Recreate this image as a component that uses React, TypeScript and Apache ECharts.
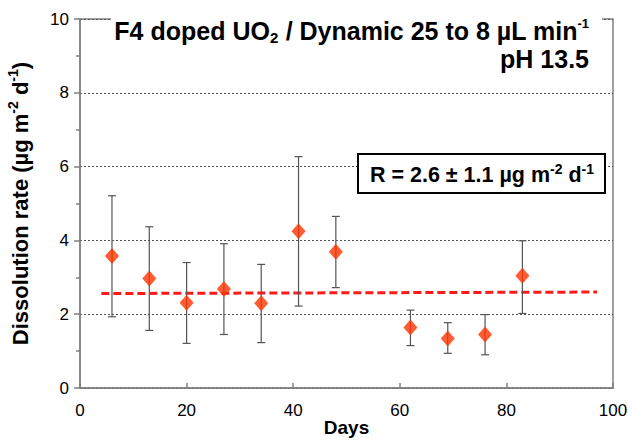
import React, { useEffect, useRef } from "react";
import * as echarts from "echarts";

const days = [6, 13, 20, 27, 34, 41, 48, 62, 69, 76, 83];
const rates = [3.58, 2.97, 2.31, 2.68, 2.3, 4.25, 3.69, 1.64, 1.34, 1.45, 3.04];
const errLow = [1.93, 1.56, 1.21, 1.45, 1.23, 2.22, 2.72, 1.15, 0.94, 0.9, 2.02];
const errHigh = [5.21, 4.37, 3.4, 3.91, 3.35, 6.27, 4.65, 2.11, 1.77, 1.99, 3.99];
const meanLineX = [4, 97];
const meanLineY = [2.56, 2.6];

const FONT = "Liberation Sans, Arial, sans-serif";

export default function App() {
  const ref = useRef<HTMLDivElement>(null);
  useEffect(() => {
    if (!ref.current) return;
    document.body.style.margin = "0";
    document.body.style.overflow = "hidden";
    const chart = echarts.init(ref.current, null, { renderer: "svg" });
    const errData = days.map((d, i) => [d, errLow[i], errHigh[i]]);
    chart.setOption({
      animation: false,
      backgroundColor: "#fff",
      textStyle: { fontFamily: FONT },
      grid: {
        left: 80,
        right: 19,
        top: 19,
        bottom: 53,
        outerBoundsMode: "none",
        containLabel: false,
        show: true,
        borderColor: "#808080",
        borderWidth: 1.5,
        backgroundColor: "transparent",
      },
      xAxis: {
        type: "value",
        min: 0,
        max: 100,
        interval: 20,
        name: "Days",
        nameLocation: "middle",
        nameGap: 29,
        nameMoveOverlap: false,
        nameTextStyle: { fontSize: 19, fontWeight: "bold", color: "#000", fontFamily: FONT, lineHeight: 20 },
        axisLine: { lineStyle: { color: "#808080", width: 1.5 } },
        axisTick: { inside: true, length: 5, lineStyle: { color: "#808080", width: 1.5 } },
        axisLabel: { fontSize: 17, color: "#000", margin: 14, fontFamily: FONT },
        splitLine: { show: false },
      },
      yAxis: {
        type: "value",
        min: 0,
        max: 10,
        interval: 2,
        name: "{b|Dissolution rate (µg m}{sup|-2}{b| d}{sup|-1}{b|)}",
        nameLocation: "middle",
        nameRotate: 90,
        nameGap: 49,
        nameMoveOverlap: false,
        nameTextStyle: {
          fontFamily: FONT,
          rich: {
            b: { fontSize: 22, fontWeight: "bold", color: "#000", lineHeight: 25, verticalAlign: "bottom", fontFamily: FONT },
            sup: { fontSize: 14, fontWeight: "bold", color: "#000", lineHeight: 25, verticalAlign: "top", fontFamily: FONT },
          },
        },
        axisLine: { show: true, lineStyle: { color: "#808080", width: 1.5 } },
        axisTick: { show: true, length: 6, lineStyle: { color: "#808080", width: 1.5 } },
        minorTick: { show: true, splitNumber: 2, length: 4, lineStyle: { color: "#808080", width: 1.5 } },
        axisLabel: { fontSize: 17, color: "#000", margin: 11, fontFamily: FONT },
        splitLine: {
          show: true,
          lineStyle: { color: "#555", type: [2, 2], width: 1 },
        },
      },
      graphic: [
        { type: "rect", shape: { x: 111, y: 14, width: 491, height: 10 }, style: { fill: "#fff" }, z: 100 },
        {
          type: "text",
          x: 589,
          y: 17,
          z: 101,
          style: {
            text: "{b|F4 doped UO}{sub|2}{b| / Dynamic 25 to 8 µL min}{sup|-1}\n{b|pH 13.5}",
            align: "right",
            verticalAlign: "top",
            fontFamily: FONT,
            rich: {
              b: { fontSize: 25, fontWeight: "bold", fill: "#000", lineHeight: 28, verticalAlign: "middle", align: "right", fontFamily: FONT },
              sub: { fontSize: 15, fontWeight: "bold", fill: "#000", lineHeight: 28, verticalAlign: "bottom", align: "right", fontFamily: FONT },
              sup: { fontSize: 13, fontWeight: "bold", fill: "#000", lineHeight: 28, verticalAlign: "top", align: "right", fontFamily: FONT },
            },
          },
        },
        {
          type: "rect",
          z: 101,
          shape: { x: 358, y: 154, width: 247, height: 39 },
          style: { fill: "#fff", stroke: "#000", lineWidth: 2 },
        },
        {
          type: "text",
          z: 102,
          x: 482,
          y: 174,
          style: {
            text: "{b|R = 2.6 ± 1.1 µg m}{sup|-2}{b| d}{sup|-1}",
            align: "center",
            verticalAlign: "middle",
            fontFamily: FONT,
            rich: {
              b: { fontSize: 21.5, fontWeight: "bold", fill: "#000", lineHeight: 24, verticalAlign: "bottom", fontFamily: FONT },
              sup: { fontSize: 14, fontWeight: "bold", fill: "#000", lineHeight: 24, verticalAlign: "top", fontFamily: FONT },
            },
          },
        },
      ],
      series: [
        {
          type: "line",
          data: meanLineX.map((x, i) => [x, meanLineY[i]]),
          symbol: "none",
          lineStyle: { color: "#ff1a1a", width: 3, type: [8, 4] },
          z: 3,
        },
        {
          type: "custom",
          data: errData,
          z: 4,
          renderItem: (params: any, api: any) => {
            const x = api.value(0);
            const lo = api.coord([x, api.value(1)]);
            const hi = api.coord([x, api.value(2)]);
            const cw = 4;
            const st = { stroke: "#555", lineWidth: 1.2 };
            return {
              type: "group",
              children: [
                { type: "line", shape: { x1: lo[0], y1: lo[1], x2: hi[0], y2: hi[1] }, style: st },
                { type: "line", shape: { x1: lo[0] - cw, y1: lo[1], x2: lo[0] + cw, y2: lo[1] }, style: st },
                { type: "line", shape: { x1: hi[0] - cw, y1: hi[1], x2: hi[0] + cw, y2: hi[1] }, style: st },
              ],
            };
          },
        },
        {
          type: "scatter",
          data: days.map((d, i) => [d, rates[i]]),
          symbol: "diamond",
          symbolSize: [14, 16],
          itemStyle: { color: "#ff3300" },
          z: 5,
        },
      ],
    });
    return () => chart.dispose();
  }, []);
  return <div ref={ref} style={{ width: 632, height: 441 }} />;
}
